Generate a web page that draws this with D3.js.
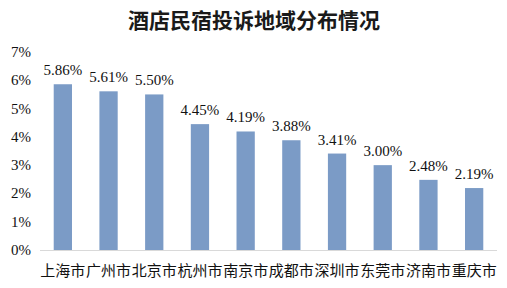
<!DOCTYPE html>
<html><head><meta charset="utf-8">
<script src="https://cdn.jsdelivr.net/npm/d3@7"></script>
<style>body{margin:0;background:#fff}</style>
</head><body>
<svg id="c" width="507" height="288"></svg>
<script>
const categories = ["上海市","广州市","北京市","杭州市","南京市","成都市","深圳市","东莞市","济南市","重庆市"];
const values = [5.86,5.61,5.50,4.45,4.19,3.88,3.41,3.00,2.48,2.19];
const yTicks = [0,1,2,3,4,5,6,7];
const title = "酒店民宿投诉地域分布情况";

const svg = d3.select("#c");
const m = {left:40, right:497, top:52, bottom:250};
const x = d3.scaleBand().domain(categories).range([m.left, m.right]).paddingInner(0.6).paddingOuter(0.3);
const y = d3.scaleLinear().domain([0,7]).range([m.bottom, m.top]);

svg.append("text").attr("x",254).attr("y",28).attr("text-anchor","middle")
  .attr("font-family","'Noto Sans CJK SC'").attr("font-weight","bold").attr("font-size",21)
  .attr("fill","#1a1a1a").text(title);

svg.selectAll("text.yt").data(yTicks).join("text").attr("class","yt")
  .attr("x",31).attr("y",d=>y(d)+5).attr("text-anchor","end")
  .attr("font-family","'Liberation Serif'").attr("font-size",15).attr("fill","#111")
  .text(d=>d+"%");

svg.selectAll("rect").data(values).join("rect")
  .attr("x",(d,i)=>x(categories[i])).attr("width",x.bandwidth())
  .attr("y",d=>y(d)).attr("height",d=>y(0)-y(d)).attr("fill","#7b9bc6");

svg.append("line").attr("x1",m.left).attr("x2",m.right).attr("y1",y(0)+0.5).attr("y2",y(0)+0.5)
  .attr("stroke","#d9d9d9");

svg.selectAll("text.vl").data(values).join("text").attr("class","vl")
  .attr("x",(d,i)=>x(categories[i])+x.bandwidth()/2).attr("y",d=>y(d)-9)
  .attr("text-anchor","middle").attr("font-family","'Liberation Serif'").attr("font-size",15).attr("fill","#111")
  .text(d=>d.toFixed(2)+"%");

svg.selectAll("text.cl").data(categories).join("text").attr("class","cl")
  .attr("x",d=>x(d)+x.bandwidth()/2).attr("y",276).attr("text-anchor","middle")
  .attr("font-family","'Noto Sans CJK SC'").attr("font-size",15).attr("fill","#111")
  .text(d=>d);
</script>
</body></html>
